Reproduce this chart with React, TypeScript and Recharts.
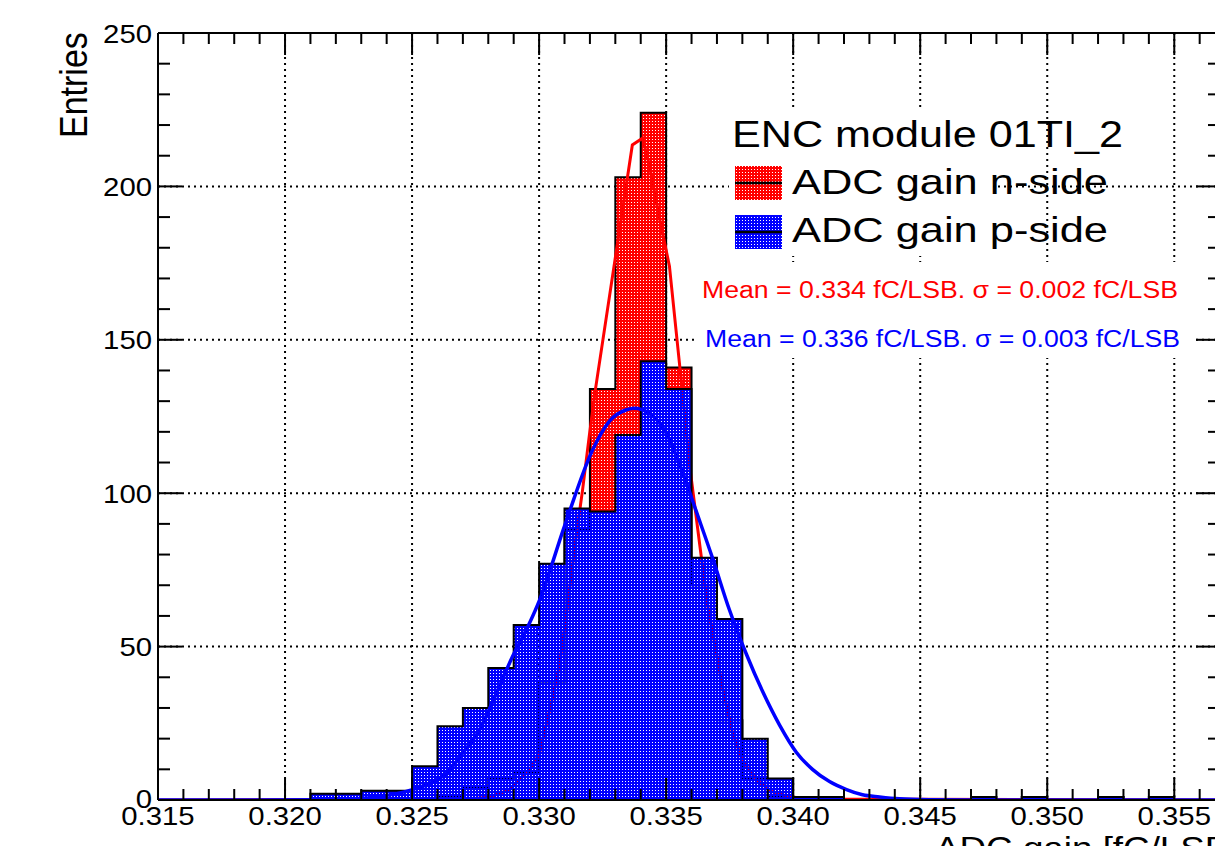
import React from 'react';
import { ComposedChart, Area, Line, XAxis, YAxis, CartesianGrid } from 'recharts';

// ---------- data ----------
const binWidth = 0.001;
const binLowEdges = [
  0.321, 0.322, 0.323, 0.324, 0.325, 0.326, 0.327, 0.328, 0.329, 0.330,
  0.331, 0.332, 0.333, 0.334, 0.335, 0.336, 0.337, 0.338, 0.339, 0.340,
  0.341, 0.342, 0.343, 0.344, 0.345, 0.346, 0.347, 0.348, 0.349, 0.350,
  0.351, 0.352, 0.353, 0.354, 0.355,
];
const pSideCounts = [
  2, 2, 3, 3, 11, 24, 30, 43, 57, 77,
  95, 94, 119, 143, 134, 79, 59, 20, 7, 1,
  1, 0, 0, 0, 0, 0, 1, 0, 1, 0,
  0, 1, 0, 1, 0,
];
const nSideCounts = [
  0, 0, 0, 0, 0, 1, 4, 7, 9, 38,
  88, 134, 203, 224, 141, 70, 26, 7, 1, 0,
  0, 0, 0, 0, 0, 0, 0, 0, 1, 0,
  0, 1, 0, 0, 0,
];

// fitted curves
const nFitX = [0.315, 0.32726, 0.32805, 0.32883, 0.32962, 0.33001, 0.33052, 0.3308, 0.33107, 0.33146, 0.33171, 0.33198, 0.33222, 0.33367, 0.33407, 0.33434, 0.33473, 0.33513, 0.33564, 0.33591, 0.33631, 0.33662, 0.33698, 0.33721, 0.33761, 0.338, 0.33855, 0.33918, 0.33985, 0.34064, 0.3568];
const nFitY = [0, 0.3, 1, 3.3, 9.8, 15, 33, 44, 60, 86, 101, 119, 134, 213.5, 215.7, 207, 190, 174, 133, 110, 84, 64, 48, 37, 22, 13, 6.5, 2.7, 1.1, 0.3, 0];

const pFitX = [0.315, 0.3215, 0.3225, 0.32372, 0.32498, 0.32569, 0.32636, 0.32698, 0.32765, 0.32832, 0.32895, 0.32962, 0.33001, 0.33103, 0.3321, 0.33277, 0.33344, 0.33375, 0.33434, 0.33501, 0.33564, 0.33619, 0.33682, 0.33749, 0.33816, 0.33879, 0.33946, 0.34013, 0.34076, 0.34143, 0.3421, 0.34273, 0.3434, 0.34418, 0.34536, 0.347, 0.3568];
const pFitY = [0, 0.05, 0.3, 1.1, 3.3, 5.4, 8.7, 15.2, 22.8, 34.8, 46.7, 57.6, 65, 90, 114, 123.5, 127.2, 127.7, 126, 119.5, 107, 94, 79, 62, 47.5, 35.5, 24.5, 15.5, 10, 6, 3.4, 1.7, 1.0, 0.4, 0.1, 0, 0];

// axes
const xDomain = [0.315, 0.3568];
const yDomain = [0, 250];
const xMajorTicks = [0.315, 0.32, 0.325, 0.33, 0.335, 0.34, 0.345, 0.35, 0.355];
const xTickLabels = ['0.315', '0.320', '0.325', '0.330', '0.335', '0.340', '0.345', '0.350', '0.355'];
const yMajorTicks = [0, 50, 100, 150, 200, 250];
const yTickLabels = ['0', '50', '100', '150', '200', '250'];
const xMinorStep = 0.001;
const yMinorStep = 10;

const xAllTicks: number[] = [];
for (let i = 0; 0.315 + i * xMinorStep <= 0.3565; i++) xAllTicks.push(+(0.315 + i * xMinorStep).toFixed(3));
const yAllTicks: number[] = [];
for (let v = 0; v <= 250; v += yMinorStep) yAllTicks.push(v);

function stepData(counts: number[]) {
  const pts: { x: number; y: number }[] = [{ x: binLowEdges[0], y: 0 }];
  counts.forEach((c, i) => pts.push({ x: binLowEdges[i], y: c }));
  pts.push({ x: +(binLowEdges[binLowEdges.length - 1] + binWidth).toFixed(3), y: 0 });
  return pts;
}
const pStep = stepData(pSideCounts);
const nStep = stepData(nSideCounts);
const nFit = nFitX.map((x, i) => ({ x, y: nFitY[i] }));
const pFit = pFitX.map((x, i) => ({ x, y: pFitY[i] }));

// ---------- styling ----------
const F = '"Liberation Sans", Arial, Helvetica, sans-serif';
const SX = 1.15;

function BottomTick(props: any) {
  const { x, y, payload } = props;
  const i = xMajorTicks.indexOf(payload.value);
  const major = i >= 0;
  return (
    <g>
      <line x1={x} x2={x} y1={y} y2={y - (major ? 22 : 11)} stroke="#000" strokeWidth={2} />
      {major && (
        <g transform={`translate(${x},${y + 25}) scale(${SX},1)`}>
          <text x={0} y={0} textAnchor="middle" fontFamily={F} fontSize={25.5} fill="#000">
            {xTickLabels[i]}
          </text>
        </g>
      )}
    </g>
  );
}
function TopTick(props: any) {
  const { x, y, payload } = props;
  const major = xMajorTicks.indexOf(payload.value) >= 0;
  return <line x1={x} x2={x} y1={y} y2={y + (major ? 22 : 11)} stroke="#000" strokeWidth={2} />;
}
function LeftTick(props: any) {
  const { x, y, payload } = props;
  const i = yMajorTicks.indexOf(payload.value);
  const major = i >= 0;
  return (
    <g>
      <line x1={x} x2={x + (major ? 24 : 12)} y1={y} y2={y} stroke="#000" strokeWidth={2} />
      {major && (
        <g transform={`translate(${x - 6},${y + (i === 0 ? 7.5 : 9.5)}) scale(${SX},1)`}>
          <text x={0} y={0} textAnchor="end" fontFamily={F} fontSize={25.5} fill="#000">
            {yTickLabels[i]}
          </text>
        </g>
      )}
    </g>
  );
}
function RightTick(props: any) {
  const { x, y, payload } = props;
  const major = yMajorTicks.indexOf(payload.value) >= 0;
  return <line x1={x} x2={x - (major ? 24 : 12)} y1={y} y2={y} stroke="#000" strokeWidth={2} />;
}

function axisPos(axis: any, v: number, d: number[], start: number, size: number, invert: boolean) {
  if (axis && typeof axis.scale === 'function') return axis.scale(v);
  if (axis && axis.scale && typeof axis.scale.map === 'function') return axis.scale.map(v);
  const t = (v - d[0]) / (d[1] - d[0]);
  return invert ? start + size * (1 - t) : start + size * t;
}

const dotPath = 'M0 0h3v1H0zM0 1h1v1H0zM2 1h1v1H2zM0 2h3v1H0z';

export default function App() {
  return (
    <div style={{ position: 'absolute', left: 0, top: 0, width: 1215, height: 846, overflow: 'hidden', background: '#fff' }}>
      <svg width={0} height={0} style={{ position: 'absolute' }}>
        <defs>
          <pattern id="patBlue" width={3} height={3} patternUnits="userSpaceOnUse">
            <path d={dotPath} fill="#0000ff" />
          </pattern>
          <pattern id="patRed" width={3} height={3} patternUnits="userSpaceOnUse">
            <path d={dotPath} fill="#ff0000" />
          </pattern>
        </defs>
      </svg>
      <div style={{ position: 'absolute', left: 0, top: 0 }}>
        <ComposedChart width={1240} height={870} margin={{ top: 0, right: 0, bottom: 0, left: 0 }}>
          <CartesianGrid
            stroke="#000"
            strokeWidth={2}
            strokeDasharray="2 4"
            verticalCoordinatesGenerator={({ xAxis, offset }: any) =>
              xMajorTicks.filter((v) => v > 0.315).map((v) => axisPos(xAxis, v, xDomain, offset.left, offset.width, false))
            }
            horizontalCoordinatesGenerator={({ yAxis, offset }: any) =>
              yMajorTicks.filter((v) => v > 0 && v < 250).map((v) => axisPos(yAxis, v, yDomain, offset.top, offset.height, true))
            }
          />
          <XAxis
            type="number"
            dataKey="x"
            domain={xDomain}
            allowDataOverflow
            ticks={xAllTicks}
            interval={0}
            tickSize={0}
            tickMargin={0}
            tickLine={false}
            axisLine={{ stroke: '#000', strokeWidth: 2 }}
            tick={<BottomTick />}
            height={70}
          />
          <XAxis
            xAxisId="top"
            orientation="top"
            type="number"
            dataKey="x"
            domain={xDomain}
            allowDataOverflow
            ticks={xAllTicks}
            interval={0}
            tickSize={0}
            tickMargin={0}
            tickLine={false}
            axisLine={{ stroke: '#000', strokeWidth: 2 }}
            tick={<TopTick />}
            height={33}
          />
          <YAxis
            type="number"
            domain={yDomain}
            allowDataOverflow
            ticks={yAllTicks}
            interval={0}
            tickSize={0}
            tickMargin={0}
            tickLine={false}
            axisLine={{ stroke: '#000', strokeWidth: 2 }}
            tick={<LeftTick />}
            width={158}
          />
          <YAxis
            yAxisId="right"
            orientation="right"
            type="number"
            domain={yDomain}
            allowDataOverflow
            ticks={yAllTicks}
            interval={0}
            tickSize={0}
            tickMargin={0}
            tickLine={false}
            axisLine={{ stroke: '#000', strokeWidth: 2 }}
            tick={<RightTick />}
            width={20}
          />
          <Area data={nStep} dataKey="y" type="stepAfter" stroke="#000" strokeWidth={2} fill="url(#patRed)" fillOpacity={1} dot={false} activeDot={false} isAnimationActive={false} />
          <Area data={nFit} dataKey="y" type="linear" stroke="#ff0000" strokeWidth={3} fill="none" dot={false} activeDot={false} isAnimationActive={false} />
          <Area data={pStep} dataKey="y" type="stepAfter" stroke="#000" strokeWidth={2} fill="url(#patBlue)" fillOpacity={1} dot={false} activeDot={false} isAnimationActive={false} />
          <Line data={pFit} dataKey="y" type="monotone" stroke="#0000ff" strokeWidth={3.5} dot={false} activeDot={false} isAnimationActive={false} />
        </ComposedChart>
      </div>
      <svg width={1215} height={846} style={{ position: 'absolute', left: 0, top: 0, pointerEvents: 'none' }}>
        <g transform="translate(86.7,138) rotate(-90) scale(1,1.15)">
          <text x={0} y={0} fontFamily={F} fontSize={34} fill="#000">Entries</text>
        </g>
        <g transform="translate(935,859) scale(1.15,1)">
          <text x={0} y={0} fontFamily={F} fontSize={32} fill="#000">ADC gain [fC/LSB]</text>
        </g>
        {/* legend box (white fill, no border) */}
        <rect x={729} y={110} width={264} height={146} fill="#fff" />
        <text x={732} y={146.5} fontFamily={F} fontSize={37} fill="#000" textLength={391} lengthAdjust="spacingAndGlyphs">ENC module 01TI_2</text>
        <rect x={735} y={166} width={47} height={34} fill="url(#patRed)" />
        <line x1={735} x2={782} y1={183} y2={183} stroke="#000" strokeWidth={2.5} />
        <text x={792} y={193.5} fontFamily={F} fontSize={35} fill="#000" textLength={316} lengthAdjust="spacingAndGlyphs">ADC gain n-side</text>
        <rect x={735} y={215} width={47} height={34} fill="url(#patBlue)" />
        <line x1={735} x2={782} y1={232} y2={232} stroke="#000" strokeWidth={2.5} />
        <text x={792} y={241.7} fontFamily={F} fontSize={35} fill="#000" textLength={316} lengthAdjust="spacingAndGlyphs">ADC gain p-side</text>
        {/* fit result box */}
        <rect x={697} y={262} width={495} height={96} fill="#fff" />
        <text x={702} y={298.3} fontFamily={F} fontSize={23} fill="#ff0000" textLength={476} lengthAdjust="spacingAndGlyphs">Mean = 0.334 fC/LSB. σ = 0.002 fC/LSB</text>
        <text x={705} y={346.7} fontFamily={F} fontSize={23} fill="#0000ff" textLength={475} lengthAdjust="spacingAndGlyphs">Mean = 0.336 fC/LSB. σ = 0.003 fC/LSB</text>
      </svg>
    </div>
  );
}
